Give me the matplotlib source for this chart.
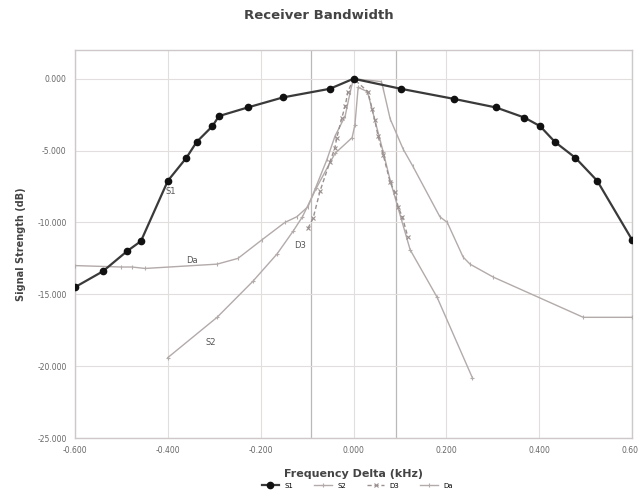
import matplotlib
matplotlib.use("Agg")
import matplotlib.pyplot as plt
from matplotlib.ticker import FormatStrFormatter

title = "Receiver Bandwidth"
x_label = "Frequency Delta (kHz)"
y_label = "Signal Strength (dB)"

s1_x = [-0.600, -0.540, -0.488, -0.458, -0.400, -0.360, -0.338, -0.304, -0.290, -0.228,
        -0.152, -0.051, 0.000, 0.102, 0.216, 0.307, 0.368, 0.402, 0.434, 0.478, 0.525, 0.600]
s1_y = [-14.5, -13.4, -12.0, -11.3, -7.1, -5.5, -4.4, -3.3, -2.6, -2.0,
        -1.3, -0.7, 0.0, -0.7, -1.4, -2.0, -2.7, -3.3, -4.4, -5.5, -7.1, -11.2]

s2_x = [-0.400, -0.294, -0.217, -0.165, -0.130, -0.110, -0.080, -0.040, -0.003, 0.003,
        0.010, 0.030, 0.064, 0.080, 0.122, 0.180, 0.256]
s2_y = [-19.4, -16.6, -14.1, -12.2, -10.6, -9.6, -7.6, -5.2, -4.1, -3.2,
        -0.6, -0.9, -5.1, -7.2, -11.9, -15.2, -20.8]

d3_x = [-0.098, -0.087, -0.072, -0.051, -0.040, -0.036, -0.025, -0.018, -0.012, 0.000,
        0.031, 0.040, 0.046, 0.053, 0.064, 0.079, 0.089, 0.096, 0.105, 0.117]
d3_y = [-10.4, -9.7, -7.8, -5.8, -4.8, -4.1, -2.7, -1.9, -0.9, 0.0,
        -0.9, -2.1, -2.9, -4.0, -5.3, -7.2, -7.9, -8.9, -9.6, -11.0]

da_x = [-0.600, -0.500, -0.477, -0.449, -0.294, -0.249, -0.197, -0.148, -0.122, -0.098,
        -0.057, -0.040, -0.018, -0.007, 0.000, 0.060, 0.064, 0.079, 0.107, 0.128,
        0.186, 0.202, 0.236, 0.251, 0.301, 0.495, 0.600]
da_y = [-13.0, -13.1, -13.1, -13.2, -12.9, -12.5, -11.2, -10.0, -9.6, -8.9,
        -5.6, -4.0, -2.6, -0.9, 0.0, -0.2, -0.7, -2.8, -4.9, -6.1,
        -9.6, -10.0, -12.4, -12.9, -13.8, -16.6, -16.6]

marker_lines = [-0.092, 0.092]

fig = plt.figure(figsize=(6.38, 4.90), dpi=100)
ax = fig.add_axes([0.1176, 0.106, 0.873, 0.792])

light = "#b3aaaa"
ax.plot(da_x, da_y, color=light, lw=1.0, marker="|", ms=3, mew=0.8, label="Da", zorder=3)
ax.plot(s2_x, s2_y, color=light, lw=1.0, marker="+", ms=3.5, mew=0.8, label="S2", zorder=3)
ax.plot(d3_x, d3_y, color="#9a9090", lw=1.0, ls=(0, (3, 2)), marker="x", ms=3, mew=0.8,
        label="D3", zorder=3)
ax.plot(s1_x, s1_y, color="#3a3a3a", lw=1.6, marker="o", ms=4.5, mfc="#111111",
        mec="#111111", label="S1", zorder=4)

for xv in marker_lines:
    ax.axvline(xv, color="#bdb8b8", lw=0.9, zorder=1)

ax.set_xlim(-0.6, 0.6)
ax.set_ylim(-25, 2)
ax.set_xticks([-0.6, -0.4, -0.2, 0.0, 0.2, 0.4, 0.6])
ax.set_yticks([-25, -20, -15, -10, -5, 0])
ax.xaxis.set_major_formatter(FormatStrFormatter("%.3f"))
ax.yaxis.set_major_formatter(FormatStrFormatter("%.3f"))
ax.grid(True, color="#e2dede", lw=0.8, zorder=0)
ax.tick_params(labelsize=5.5, colors="#666666", length=0, pad=6)
for sp in ax.spines.values():
    sp.set_color("#cfc8c8")
    sp.set_linewidth(1.0)

ax.set_xlabel(x_label, fontsize=8, fontweight="bold", color="#444444", labelpad=10)
ax.set_ylabel(y_label, fontsize=7, fontweight="bold", color="#444444", labelpad=8)
fig.text(0.5, 0.968, title, ha="center", va="center", fontsize=9.5, fontweight="bold",
         color="#444444")

ax.text(-0.405, -8.0, "S1", fontsize=6, color="#555555")
ax.text(-0.36, -12.8, "Da", fontsize=6, color="#555555")
ax.text(-0.128, -11.8, "D3", fontsize=6, color="#555555")
ax.text(-0.318, -18.5, "S2", fontsize=6, color="#555555")

handles, labels = ax.get_legend_handles_labels()
order = [3, 1, 2, 0]
fig.legend([handles[i] for i in order], [labels[i] for i in order], loc="lower center",
           bbox_to_anchor=(0.56, -0.01), ncol=4, fontsize=5, frameon=False,
           handlelength=2.5, columnspacing=3)

fig.savefig("out.png", dpi=100)
